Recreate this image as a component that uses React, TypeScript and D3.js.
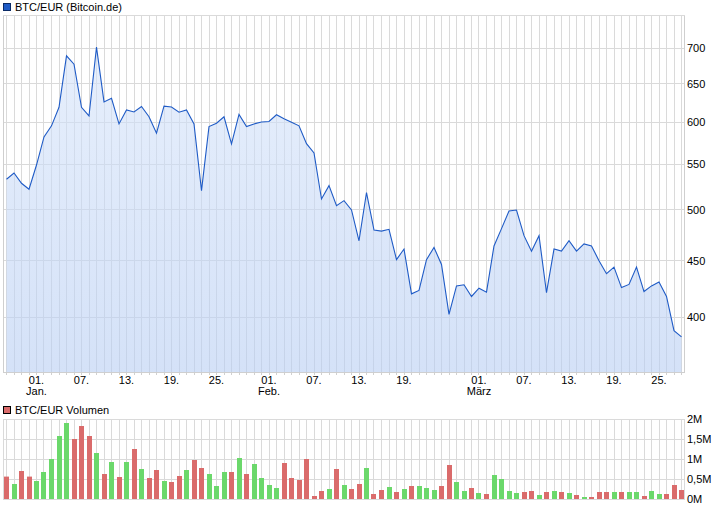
import React from "react";
import * as d3 from "d3";

// ---- data ----
const START = Date.UTC(2013, 11, 28);
const closes = [
  533, 540, 528.6, 522, 549, 582, 595.6, 619, 689, 677,
  619, 608, 701.5, 626, 630.7, 598, 615.7, 613, 620, 607,
  586.6, 620.5, 619.5, 612.7, 615.7, 598, 520.5, 594.7, 598.8, 607,
  573.6, 610, 594.7, 598, 600.4, 601, 609.5, 604.5, 600, 595.6,
  574, 563, 511.6, 526, 504.6, 509.8, 500, 469, 518.5, 479.5,
  478.5, 480.3, 451, 461, 420, 423, 451, 462.5, 446.5, 402.4,
  427, 428, 417.7, 425, 421.5, 464, 481, 499, 500, 474,
  459, 474, 421, 461, 459, 469, 459, 466, 464, 450,
  438, 444, 425.5, 428.3, 444, 422, 427, 430.5, 417.7, 389,
  384,
];
const volumes = [
  0.56, 0.375, 0.7, 0.56, 0.45, 0.675, 1.0, 1.575, 1.9, 1.5,
  1.825, 1.575, 1.15, 0.625, 0.925, 0.55, 0.925, 1.25, 0.75, 0.525,
  0.725, 0.45, 0.425, 0.575, 0.725, 0.975, 0.775, 0.625, 0.325, 0.675,
  0.675, 1.025, 0.625, 0.875, 0.525, 0.35, 0.275, 0.9, 0.525, 0.475,
  1.0, 0.075, 0.2, 0.25, 0.75, 0.35, 0.25, 0.375, 0.775, 0.125,
  0.225, 0.3, 0.175, 0.25, 0.325, 0.325, 0.275, 0.225, 0.325, 0.85,
  0.425, 0.2, 0.275, 0.15, 0.125, 0.6, 0.5, 0.2, 0.15, 0.175,
  0.2, 0.1, 0.175, 0.2, 0.175, 0.15, 0.1, 0.05, 0.05, 0.175,
  0.175, 0.175, 0.175, 0.175, 0.175, 0.075, 0.2, 0.125, 0.125, 0.35,
  0.225,
];
const priceTicks = [400, 450, 500, 550, 600, 650, 700];
const volTicks = [0, 0.5, 1, 1.5, 2];
const volTickLabels = ["0M", "0,5M", "1M", "1,5M", "2M"];
const dateTicks = [
  "2014-01-01", "2014-01-07", "2014-01-13", "2014-01-19", "2014-01-25",
  "2014-02-01", "2014-02-07", "2014-02-13", "2014-02-19",
  "2014-03-01", "2014-03-07", "2014-03-13", "2014-03-19", "2014-03-25",
];
const monthLabels: Record<string, string> = {
  "2014-01-01": "Jan.",
  "2014-02-01": "Feb.",
  "2014-03-01": "März",
};

const DAY = 86400000;
const dates = closes.map((_, i) => new Date(START + i * DAY));

const FONT = "'Liberation Sans', Arial, sans-serif";

export default function App() {
  const W = 726, H = 508;
  const left = 3, right = 684;
  const pTop = 15, pBottom = 372;
  const vTop = 419, vBottom = 499;

  const x = d3.scaleUtc()
    .domain([dates[0], dates[dates.length - 1]])
    .range([6.5, 681.5]);
  const y = d3.scaleLog().domain([357, 750]).range([pBottom, pTop]);
  const yv = d3.scaleLinear().domain([0, 2]).range([vBottom, vTop]);

  const line = d3.line<number>()
    .x((_, i) => x(dates[i]))
    .y((d) => y(d));
  const area = d3.area<number>()
    .x((_, i) => x(dates[i]))
    .y0(pBottom)
    .y1((d) => y(d));

  const snap = (v: number) => Math.round(v) + 0.5;
  const grid = "#dadada";

  const dayLines = dates.map((d) => snap(x(d) - 0.5));

  return (
    <svg
      width={W}
      height={H}
      style={{ position: "absolute", left: 0, top: 0, background: "#fff" }}
      fontFamily={FONT}
    >
      <defs>
        <linearGradient id="ag" x1="0" y1="0" x2="0" y2="1">
          <stop offset="0%" stopColor="#d6e4fa" stopOpacity={0.6} />
          <stop offset="100%" stopColor="#b8cef3" stopOpacity={0.6} />
        </linearGradient>
      </defs>
      <rect x={0} y={0} width={W} height={H} fill="#fff" />

      {/* ---- price panel ---- */}
      <g>
        {dayLines.map((gx, i) => (
          <line key={"vg" + i} x1={gx} x2={gx} y1={pTop} y2={pBottom} stroke={grid} />
        ))}
        {priceTicks.map((t) => (
          <line key={"hg" + t} x1={left} x2={right} y1={snap(y(t) - 0.5)} y2={snap(y(t) - 0.5)} stroke={grid} />
        ))}
        <path d={area(closes) || ""} fill="url(#ag)" />
        <path d={line(closes) || ""} fill="none" stroke="#1f5bc6" strokeWidth={1.1} />
        {/* frame */}
        <line x1={left + 0.5} x2={left + 0.5} y1={pTop} y2={pBottom} stroke="#cfcfcf" />
        <line x1={right + 0.5} x2={right + 0.5} y1={pTop} y2={pBottom + 0.5} stroke="#cfcfcf" />
        <line x1={left} x2={right + 1} y1={pTop + 0.5} y2={pTop + 0.5} stroke={grid} />
        <line x1={left} x2={right + 1} y1={pBottom + 0.5} y2={pBottom + 0.5} stroke="#cfcfcf" />
        {dayLines.map((gx, i) => (
          <line key={"tk" + i} x1={gx} x2={gx} y1={pBottom + 1} y2={pBottom + 3} stroke="#d0d0d0" />
        ))}
        {priceTicks.map((t) => (
          <text key={"pl" + t} x={687} y={y(t)} dy="0.35em" fontSize={11} fill="#000">
            {t}
          </text>
        ))}
        {dateTicks.map((s) => {
          const d = new Date(s + "T00:00:00Z");
          const tx = x(d);
          return (
            <g key={s}>
              <text x={tx} y={383.5} textAnchor="middle" fontSize={11} fill="#000">
                {s.slice(8, 10) + "."}
              </text>
              {monthLabels[s] && (
                <text x={tx} y={395} textAnchor="middle" fontSize={11} fill="#000">
                  {monthLabels[s]}
                </text>
              )}
            </g>
          );
        })}
        <rect x={3.5} y={3.5} width={7} height={7} fill="#1f5bc6" stroke="#0a2a66" />
        <text x={15} y={7} dy="0.35em" fontSize={11} fill="#000">BTC/EUR (Bitcoin.de)</text>
      </g>

      {/* ---- volume panel ---- */}
      <g>
        {dayLines.map((gx, i) => (
          <line key={"vvg" + i} x1={gx} x2={gx} y1={vTop} y2={vBottom} stroke={grid} />
        ))}
        {volTicks.map((t) => (
          <line key={"vhg" + t} x1={left} x2={right + 1} y1={snap(yv(t) - 0.5)} y2={snap(yv(t) - 0.5)} stroke={grid} />
        ))}
        <line x1={left + 0.5} x2={left + 0.5} y1={vTop} y2={vBottom} stroke={grid} />
        <line x1={right + 0.5} x2={right + 0.5} y1={vTop} y2={vBottom} stroke={grid} />
        {volumes.map((v, i) => {
          const up = i > 0 && closes[i] > closes[i - 1];
          const cx = x(dates[i]);
          const top = yv(v);
          return (
            <rect
              key={"b" + i}
              x={Math.round(cx - 2.5)}
              y={top}
              width={5}
              height={vBottom - top}
              fill={up ? "#6bd86b" : "#da6b6b"}
            />
          );
        })}
        {volTicks.map((t, k) => (
          <text key={"vl" + t} x={687} y={yv(t)} dy="0.35em" fontSize={11} fill="#000">
            {volTickLabels[k]}
          </text>
        ))}
        <rect x={3.5} y={406.5} width={7} height={7} fill="#da6b6b" stroke="#000" />
        <text x={15} y={410} dy="0.35em" fontSize={11} fill="#000">BTC/EUR Volumen</text>
      </g>
    </svg>
  );
}
